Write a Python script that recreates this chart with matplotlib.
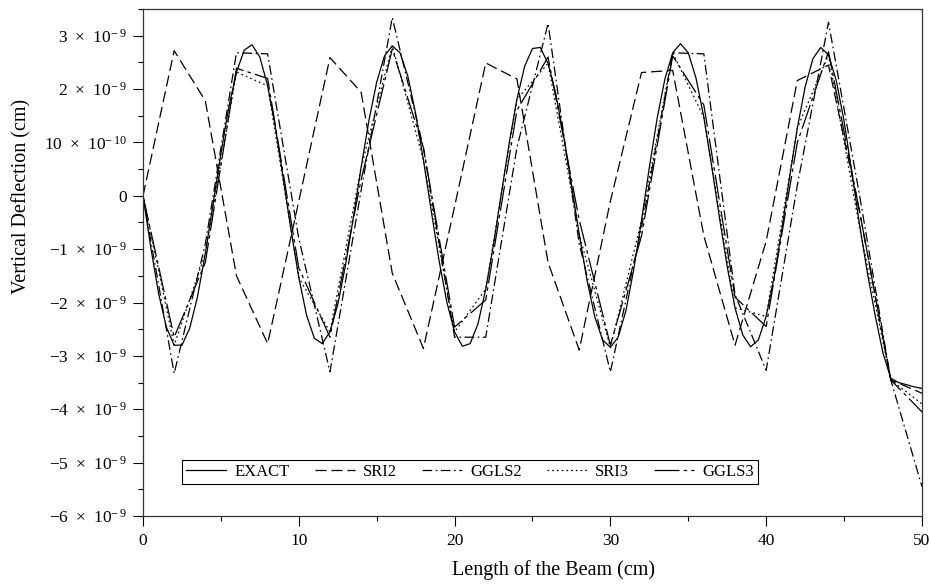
import numpy as np
import matplotlib
matplotlib.use('Agg')
import matplotlib.pyplot as plt
from matplotlib.ticker import FixedLocator, MultipleLocator

plt.rcParams['font.family'] = ['Liberation Serif', 'DejaVu Serif']
plt.rcParams['mathtext.default'] = 'regular'
plt.rcParams['lines.scale_dashes'] = False

#%% data (deflection in units of 1e-9 cm)
x_exact = np.arange(0, 50.5, 0.5)
exact = [0, -0.97, -1.83, -2.46, -2.80, -2.80, -2.48, -1.89, -1.08, -0.15,
         0.79, 1.65, 2.32, 2.73, 2.83, 2.60, 2.06, 1.28, 0.33, -0.64,
         -1.53, -2.24, -2.67, -2.77, -2.55, -2.04, -1.30, -0.41, 0.53, 1.41,
         2.13, 2.62, 2.81, 2.68, 2.24, 1.54, 0.67, -0.28, -1.21, -1.99,
         -2.55, -2.82, -2.77, -2.40, -1.75, -0.91, 0.04, 0.98, 1.81, 2.43,
         2.76, 2.78, 2.48, 1.91, 1.12, 0.21, -0.72, -1.58, -2.27, -2.70,
         -2.84, -2.65, -2.15, -1.38, -0.46, 0.53, 1.45, 2.19, 2.68, 2.85,
         2.68, 2.20, 1.47, 0.56, -0.41, -1.33, -2.10, -2.61, -2.83, -2.70,
         -2.26, -1.54, -0.64, 0.34, 1.27, 2.04, 2.57, 2.78, 2.64, 2.16,
         1.40, 0.44, -0.55, -1.45, -2.25, -2.95, -3.42, -3.50, -3.54, -3.58,
         -3.61]

x_nodes = np.arange(0, 51, 2)
sri2 = [0, 2.72, 1.78, -1.50, -2.77, -0.10, 2.59, 1.94, -1.45, -2.86,
        -0.20, 2.49, 2.19, -1.25, -2.89, -0.10, 2.31, 2.35, -0.75, -2.80,
        -0.85, 2.16, 2.45, -0.30, -3.45, -3.70]
ggls2 = [0, -3.33, -0.90, 2.68, 2.66, -0.80, -3.30, 0.10, 3.34, 0.90,
         -2.65, -2.65, 0.90, 3.23, -0.90, -3.30, -0.60, 2.68, 2.66, -1.85,
         -3.27, 0.20, 3.25, 0.00, -3.45, -5.45]
sri3 = [0, -2.80, -1.08, 2.32, 2.06, -1.53, -2.55, 0.53, 2.81, 0.67,
        -2.55, -1.75, 1.81, 2.48, -0.72, -2.84, -0.46, 2.68, 1.47, -2.10,
        -2.26, 1.27, 2.64, -0.61, -3.45, -3.90]
ggls3 = [0, -2.65, -1.25, 2.39, 2.20, -1.35, -2.65, 0.30, 2.75, 0.90,
         -2.46, -1.95, 1.60, 2.60, -0.45, -2.80, -0.75, 2.62, 1.70, -1.90,
         -2.45, 1.00, 2.70, -0.30, -3.45, -4.05]

yticks = [3, 2, 1, 0, -1, -2, -3, -4, -5, -6]
ytick_labels = [r'$3\;\times\;10^{-\,9}$', r'$2\;\times\;10^{-\,9}$', r'$10\;\times\;10^{-\,10}$', '0',
                r'$-1\;\times\;10^{-\,9}$', r'$-2\;\times\;10^{-\,9}$', r'$-3\;\times\;10^{-\,9}$',
                r'$-4\;\times\;10^{-\,9}$', r'$-5\;\times\;10^{-\,9}$', r'$-6\;\times\;10^{-\,9}$']

#%% plot
fig = plt.figure(figsize=(9.31, 5.86), dpi=100)
ax = fig.add_axes([0.1536, 0.1195, 0.8367, 0.8651])

lw = 0.9
sc = 1e-9
ax.plot(x_exact, np.array(exact)*sc, color='k', lw=lw, label='EXACT')
ax.plot(x_nodes, np.array(sri2)*sc, color='k', lw=lw, dashes=(8, 3.5), label='SRI2')
ax.plot(x_nodes, np.array(ggls2)*sc, color='k', lw=lw, dashes=(7, 2.5, 1.2, 2.5), label='GGLS2')
ax.plot(x_nodes, np.array(sri3)*sc, color='k', lw=lw, dashes=(1.2, 2.2), label='SRI3')
ax.plot(x_nodes, np.array(ggls3)*sc, color='k', lw=lw, dashes=(18, 3, 2.5, 3), label='GGLS3')

ax.set_xlim(0, 50)
ax.set_ylim(-6e-9, 3.5e-9)
ax.yaxis.set_major_locator(FixedLocator([v*sc for v in yticks]))
ax.set_yticklabels(ytick_labels)
ax.yaxis.set_minor_locator(MultipleLocator(0.5e-9))
ax.xaxis.set_major_locator(MultipleLocator(10))
ax.xaxis.set_minor_locator(MultipleLocator(5))
ax.tick_params(which='major', direction='out', length=7.5, width=0.8, labelsize=12.5, pad=4)
ax.tick_params(axis='x', which='major', pad=5)
ax.tick_params(which='minor', direction='out', length=3.5, width=0.8)
for s in ax.spines.values():
    s.set_linewidth(0.9)
    s.set_color('#333333')

ax.set_xlabel('Length of the Beam (cm)', fontsize=14.5)
ax.xaxis.set_label_coords(0.527, -0.088)
ax.set_ylabel('Vertical Deflection (cm)', fontsize=14.5)
ax.yaxis.set_label_coords(-0.143, 0.63)

leg = ax.legend(loc='lower left', bbox_to_anchor=(0.05, 0.063), ncol=5, fontsize=12,
                frameon=True, fancybox=False, framealpha=1, edgecolor='k',
                handlelength=2.4, handletextpad=0.5, columnspacing=1.5,
                borderaxespad=0, borderpad=0.25)
leg.get_frame().set_linewidth(0.8)

fig.savefig('out.png', dpi=100)
